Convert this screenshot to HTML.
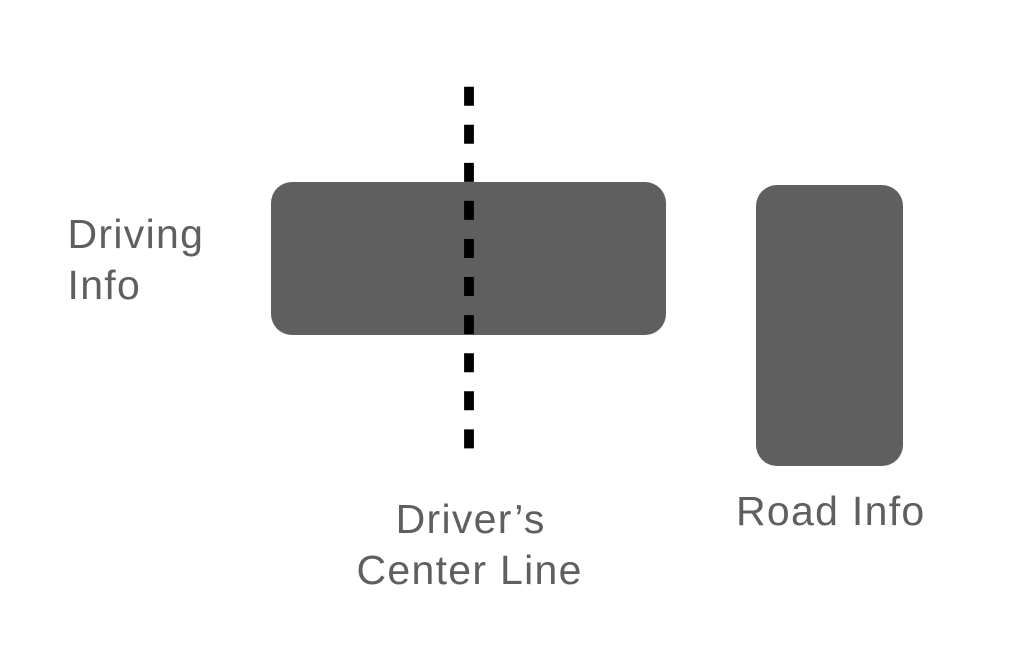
<!DOCTYPE html>
<html>
<head>
<meta charset="utf-8">
<style>
  html, body { margin:0; padding:0; background:#ffffff; }
  body { width:1022px; height:654px; position:relative; overflow:hidden; }
  .t {
    position:absolute; white-space:nowrap;
    font-family:"Liberation Sans", Arial, Helvetica, sans-serif;
    font-size:41px; line-height:41px; color:#5f5f5f;
    letter-spacing:1.3px;
  }
  .c { width:400px; text-align:center; padding-left:1.3px; box-sizing:border-box; }
</style>
</head>
<body>
<svg width="1022" height="654" style="position:absolute;left:0;top:0">
  <rect x="271" y="182" width="395" height="153" rx="21" ry="21" fill="#5f5f5f"/>
  <rect x="756" y="185" width="147" height="281" rx="21" ry="21" fill="#5f5f5f"/>
  <line x1="469" y1="86.7" x2="469" y2="448.7" stroke="#000" stroke-width="9.8" stroke-dasharray="19 19.07"/>
</svg>
<div class="t" style="left:67.5px;top:214px">Driving</div>
<div class="t" style="left:67.5px;top:265px">Info</div>
<div class="t c" style="left:270px;top:498.5px">Driver’s</div>
<div class="t c" style="left:269px;top:550px">Center Line</div>
<div class="t" style="left:736px;top:490.5px">Road Info</div>
</body>
</html>
